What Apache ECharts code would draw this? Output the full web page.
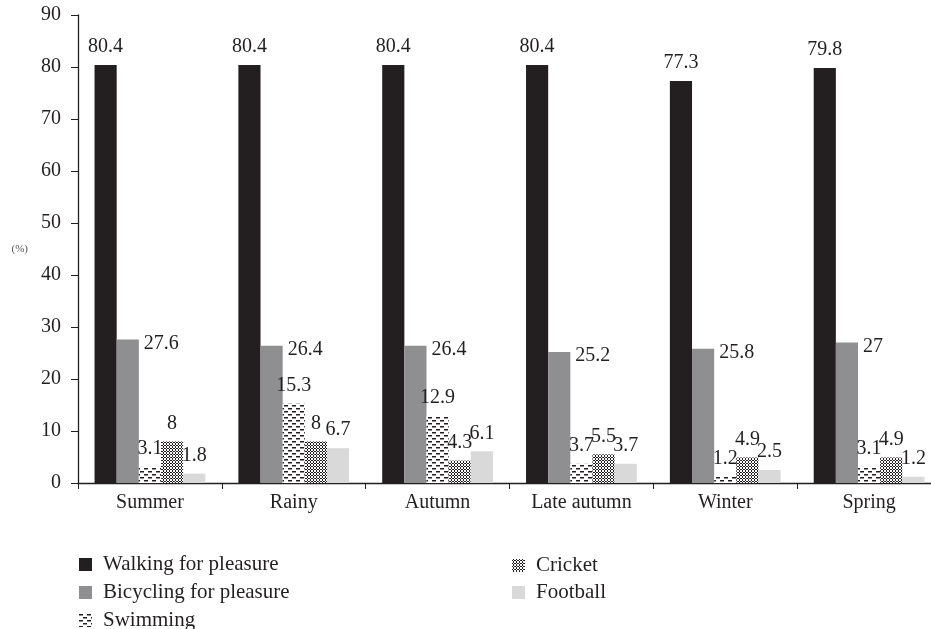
<!DOCTYPE html>
<html>
<head>
<meta charset="utf-8">
<script src="https://cdn.jsdelivr.net/npm/echarts@6/dist/echarts.min.js"></script>
<style>
html,body{margin:0;padding:0;background:#fff;}
#main{width:931px;height:629px;}
</style>
</head>
<body>
<div id="main"></div>
<script>
var categories = ['Summer', 'Rainy', 'Autumn', 'Late autumn', 'Winter', 'Spring'];
var walking = [80.4, 80.4, 80.4, 80.4, 77.3, 79.8];
var bicycling = [27.6, 26.4, 26.4, 25.2, 25.8, 27];
var swimming = [3.1, 15.3, 12.9, 3.7, 1.2, 3.1];
var cricket = [8, 8, 4.3, 5.5, 4.9, 4.9];
var football = [1.8, 6.7, 6.1, 3.7, 2.5, 1.2];
var yTicks = [0, 10, 20, 30, 40, 50, 60, 70, 80, 90];

function makeSwimPattern() {
  var c = document.createElement('canvas');
  c.width = 8; c.height = 6;
  var g = c.getContext('2d');
  g.fillStyle = '#ffffff'; g.fillRect(0, 0, 8, 6);
  g.fillStyle = '#231f20';
  g.fillRect(0, 0, 4, 1.5);
  g.fillRect(4, 3, 4, 1.5);
  return c;
}
function makeCricketPattern() {
  var c = document.createElement('canvas');
  c.width = 3; c.height = 3;
  var g = c.getContext('2d');
  g.fillStyle = '#ffffff'; g.fillRect(0, 0, 3, 3);
  g.fillStyle = '#231f20';
  g.fillRect(1, 0, 1, 1);
  g.fillRect(0, 1, 1, 1); g.fillRect(2, 1, 1, 1);
  g.fillRect(1, 2, 1, 1);
  return c;
}

var FONT = 'Liberation Serif';
var TXT = '#231f20';
var FS = 20;
var labelCfg = {show: true, position: 'top', distance: 8, color: TXT, fontFamily: FONT, fontSize: FS};
var sideLabelCfg = {show: true, position: ['100%', 0], align: 'left', verticalAlign: 'middle',
  offset: [5, 4], color: TXT, fontFamily: FONT, fontSize: FS};

function bar(name, data, color, label) {
  return {
    name: name, type: 'bar', data: data,
    barGap: '0%', barCategoryGap: '23%',
    itemStyle: {color: color},
    label: label || labelCfg,
    emphasis: {disabled: true}
  };
}

var legendText = {fontFamily: FONT, fontSize: 21, lineHeight: 20, color: TXT, padding: [0, 0, 0, 6]};

var chart = echarts.init(document.getElementById('main'));
chart.setOption({
  animation: false,
  backgroundColor: '#ffffff',
  grid: {left: 78, top: 15, right: -10, bottom: 146, containLabel: false, outerBoundsMode: 'none'},
  legend: [{
    data: ['Walking for pleasure', 'Bicycling for pleasure', 'Swimming'],
    orient: 'vertical', left: 74, top: 549, height: 100, itemWidth: 13, itemHeight: 13, itemGap: 7,
    icon: 'rect', textStyle: legendText
  }, {
    data: ['Cricket', 'Football'],
    orient: 'vertical', left: 507, top: 550, height: 100, itemWidth: 13, itemHeight: 13, itemGap: 6,
    icon: 'rect', textStyle: legendText
  }],
  xAxis: {
    type: 'category', data: categories,
    axisLine: {lineStyle: {color: TXT, width: 1.3}},
    axisTick: {show: true, length: 6, lineStyle: {color: TXT}},
    axisLabel: {color: TXT, fontFamily: FONT, fontSize: FS, margin: 10}
  },
  yAxis: {
    type: 'value', min: yTicks[0], max: yTicks[yTicks.length - 1], interval: 10,
    name: '(%)', nameLocation: 'middle', nameRotate: 0, nameGap: 50,
    nameTextStyle: {fontFamily: FONT, fontSize: 11, color: '#555'},
    splitLine: {show: false},
    axisLine: {show: true, lineStyle: {color: TXT, width: 1.3}},
    axisTick: {show: true, length: 7, lineStyle: {color: TXT}},
    axisLabel: {color: TXT, fontFamily: FONT, fontSize: FS, margin: 17}
  },
  series: [
    bar('Walking for pleasure', walking, '#231f20'),
    bar('Bicycling for pleasure', bicycling, '#8f8f91', sideLabelCfg),
    bar('Swimming', swimming, {image: makeSwimPattern(), repeat: 'repeat'}),
    bar('Cricket', cricket, {image: makeCricketPattern(), repeat: 'repeat'}),
    bar('Football', football, '#d9d9da')
  ]
});
</script>
</body>
</html>
